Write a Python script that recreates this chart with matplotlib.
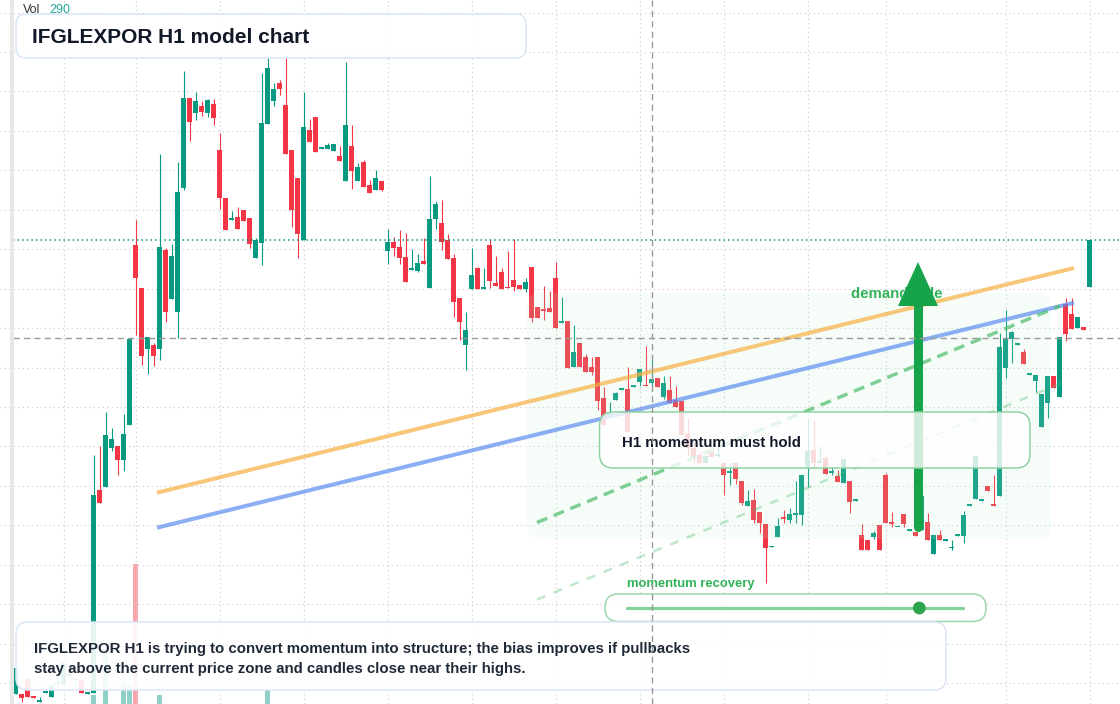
import matplotlib
matplotlib.use("Agg")
import matplotlib.pyplot as plt
import matplotlib.transforms as mtransforms
from matplotlib.patches import FancyBboxPatch, Polygon, Circle, Rectangle
import numpy as np

# H1 candles, oldest first
opens = [
    30.6, 30.6, 32.1, 30.3, 29.85, 30.75, 30.3, 31.65, 31.5, 32.45,
    32.0, 32.0, 30.65, 30.7, 51.0, 51.3, 55.2, 55.4, 54.0, 57.5,
    75.5, 71.2, 65.1, 65.5, 65.1, 75.0, 70.1, 68.8, 81.2, 90.2,
    88.7, 89.4, 88.7, 89.6, 85.0, 80.2, 78.05, 78.3, 79.0, 78.2,
    74.2, 75.7, 87.6, 89.9, 91.7, 89.5, 85.0, 82.2, 76.0, 87.0,
    88.3, 85.15, 85.1, 84.9, 84.4, 81.9, 85.4, 81.9, 83.8, 81.5,
    81.0, 81.9, 74.9, 75.8, 75.3, 74.3, 73.05, 72.9, 73.9, 71.2,
    78.1, 77.7, 76.0, 74.2, 70.2, 65.5, 71.1, 73.2, 71.15, 75.5,
    71.7, 72.8, 71.3, 72.0, 71.5, 71.1, 73.3, 69.3, 69.05, 69.2,
    72.2, 67.75, 67.9, 63.3, 65.7, 64.3, 63.3, 64.3, 60.2, 58.3,
    60.0, 61.05, 61.1, 61.35, 61.8, 61.5, 61.7, 62.2, 60.3, 61.0,
    60.0, 59.9, 56.6, 55.2, 54.5, 53.7, 54.8, 54.45, 53.7, 52.75,
    53.7, 51.9, 49.4, 50.0, 48.8, 47.6, 45.3, 46.3, 48.3, 48.0,
    48.55, 48.5, 53.3, 55.0, 53.7, 54.2, 52.75, 52.4, 51.7, 51.9,
    49.95, 46.5, 46.0, 46.3, 47.5, 52.5, 47.7, 47.3, 48.6, 46.95,
    46.8, 47.0, 47.8, 44.6, 46.5, 45.95, 45.2, 46.45, 46.4, 49.45,
    50.1, 49.95, 51.4, 49.6, 50.4, 63.2, 66.1, 65.55, 64.8, 62.55,
    61.9, 57.3, 59.7, 62.4, 60.3, 69.6, 68.6, 67.2, 67.3, 71.3,
]
highs = [
    33.2, 30.6, 32.1, 30.4, 30.3, 30.8, 31.5, 32.0, 33.7, 32.8,
    32.2, 32.0, 30.7, 54.5, 55.4, 58.8, 57.2, 55.4, 58.6, 66.1,
    78.0, 71.2, 66.3, 65.7, 84.6, 75.2, 75.6, 83.8, 92.9, 90.2,
    90.8, 89.9, 90.1, 90.1, 86.7, 80.2, 78.9, 79.3, 79.0, 78.2,
    76.2, 92.7, 94.2, 91.7, 92.0, 94.2, 85.0, 82.2, 90.8, 88.1,
    88.3, 85.2, 85.7, 85.6, 85.4, 93.8, 87.5, 83.7, 84.0, 82.0,
    83.0, 81.9, 77.1, 76.3, 77.0, 76.7, 75.1, 74.6, 76.2, 82.4,
    79.9, 80.0, 76.6, 74.6, 70.2, 68.8, 75.2, 73.3, 73.2, 76.1,
    74.4, 73.2, 74.9, 76.1, 71.5, 72.2, 73.3, 69.3, 71.4, 70.9,
    73.8, 70.3, 67.9, 67.5, 65.7, 64.6, 64.3, 64.3, 61.3, 59.8,
    60.8, 61.2, 63.3, 61.4, 63.1, 65.4, 64.0, 62.2, 62.4, 62.4,
    61.4, 59.9, 58.2, 55.8, 54.8, 54.4, 54.8, 55.3, 53.7, 53.8,
    53.7, 51.9, 51.0, 51.1, 48.8, 47.6, 45.4, 48.2, 49.0, 49.2,
    51.9, 52.5, 58.2, 57.9, 55.3, 54.5, 53.3, 53.0, 54.1, 51.9,
    50.0, 47.6, 46.0, 46.9, 47.5, 52.7, 48.8, 47.35, 48.6, 47.0,
    46.8, 50.4, 48.7, 46.5, 47.0, 46.0, 46.0, 46.5, 48.9, 49.5,
    54.4, 50.0, 51.4, 52.5, 66.7, 69.0, 66.9, 65.6, 65.1, 62.6,
    62.5, 60.6, 62.4, 62.4, 66.3, 70.2, 70.2, 68.3, 67.3, 76.0,
]
lows = [
    30.6, 29.8, 30.3, 30.2, 29.8, 30.75, 30.3, 31.4, 31.5, 32.4,
    31.9, 30.7, 30.65, 30.7, 49.7, 51.3, 54.9, 52.5, 52.9, 57.5,
    66.5, 63.5, 62.6, 63.4, 64.0, 67.8, 70.1, 66.2, 81.0, 85.9,
    88.0, 88.4, 88.3, 87.5, 79.1, 77.0, 78.0, 77.1, 77.9, 75.2,
    74.2, 73.5, 87.6, 89.4, 90.5, 84.6, 77.3, 74.2, 76.0, 85.8,
    84.8, 85.1, 85.1, 84.9, 83.9, 81.9, 81.1, 81.9, 81.3, 80.7,
    81.0, 80.9, 73.6, 74.4, 73.6, 71.8, 73.0, 72.8, 73.6, 71.2,
    77.1, 75.0, 74.1, 68.3, 66.0, 63.0, 71.1, 71.1, 71.1, 71.2,
    71.4, 71.1, 71.2, 70.9, 71.1, 70.8, 67.8, 68.2, 68.0, 68.8,
    67.2, 67.7, 63.2, 63.3, 63.3, 62.8, 62.5, 59.0, 57.5, 58.3,
    60.0, 61.0, 56.8, 61.3, 61.4, 61.4, 61.4, 61.3, 60.1, 59.7,
    59.3, 56.5, 54.5, 53.7, 53.7, 53.7, 54.3, 54.3, 50.5, 51.5,
    51.6, 49.5, 49.4, 47.7, 46.7, 41.7, 45.3, 46.3, 47.7, 47.7,
    47.7, 47.5, 51.3, 53.2, 53.7, 52.6, 52.5, 51.8, 51.7, 48.7,
    49.9, 45.0, 45.0, 46.1, 45.0, 47.7, 47.3, 47.3, 47.3, 46.9,
    46.4, 47.0, 46.0, 44.6, 46.0, 45.9, 45.0, 46.45, 45.7, 49.45,
    50.1, 49.95, 50.9, 49.4, 50.4, 62.2, 63.7, 65.55, 63.6, 62.55,
    60.8, 57.3, 58.2, 61.2, 60.3, 65.9, 67.1, 67.2, 67.0, 71.3,
]
closes = [
    33.2, 30.2, 30.3, 30.25, 29.9, 30.8, 31.5, 31.7, 33.7, 32.5,
    32.05, 30.7, 30.7, 50.5, 49.7, 56.5, 56.1, 54.0, 56.6, 66.1,
    72.2, 64.4, 66.3, 64.4, 75.3, 68.8, 74.4, 80.8, 90.2, 87.8,
    89.9, 88.8, 90.0, 88.2, 80.2, 77.0, 78.1, 77.1, 77.9, 75.6,
    76.0, 87.7, 93.2, 91.1, 91.1, 84.6, 79.0, 76.6, 87.3, 85.8,
    84.8, 85.2, 85.5, 85.6, 83.9, 87.5, 82.9, 83.3, 81.3, 80.7,
    82.2, 81.0, 75.8, 75.2, 74.2, 71.8, 73.1, 73.7, 73.6, 78.1,
    79.6, 75.8, 74.1, 69.8, 67.8, 67.0, 72.5, 71.1, 71.2, 71.9,
    71.4, 71.1, 71.2, 71.3, 71.1, 71.8, 68.2, 68.2, 68.95, 68.8,
    67.2, 67.9, 63.2, 64.8, 63.3, 62.8, 62.8, 59.9, 57.5, 58.7,
    60.7, 61.1, 56.8, 61.4, 63.1, 61.4, 62.1, 61.3, 61.7, 59.7,
    59.3, 56.5, 55.2, 54.3, 53.7, 54.4, 54.3, 54.5, 52.5, 52.8,
    52.1, 49.7, 49.9, 48.0, 47.7, 45.2, 45.35, 47.4, 48.1, 48.6,
    48.6, 52.5, 54.9, 53.7, 53.9, 52.6, 52.8, 51.8, 54.1, 49.8,
    50.0, 45.0, 45.0, 46.7, 45.0, 47.7, 47.65, 47.35, 47.6, 47.0,
    46.4, 50.4, 46.0, 46.5, 46.0, 46.0, 45.25, 46.5, 48.5, 49.5,
    54.4, 50.0, 50.9, 49.4, 65.3, 66.2, 66.8, 65.6, 63.6, 62.6,
    62.5, 60.6, 62.4, 61.2, 66.3, 66.6, 67.1, 68.3, 67.0, 76.0,
]
volumes = [
    180, 150, 210, 90, 120, 140, 200, 160, 230, 130,
    110, 190, 150, 450, 300, 880, 260, 240, 580, 540,
    1760, 320, 210, 180, 450, 310, 250, 340, 330, 260,
    190, 150, 170, 200, 290, 230, 140, 160, 120, 210,
    180, 340, 500, 220, 150, 300, 270, 280, 330, 170,
    190, 80, 90, 110, 150, 320, 250, 160, 180, 130,
    140, 120, 240, 150, 170, 200, 130, 120, 140, 290,
    180, 210, 170, 260, 230, 250, 220, 160, 110, 200,
    130, 150, 120, 170, 100, 130, 240, 160, 120, 140,
    230, 150, 260, 190, 180, 150, 110, 230, 200, 140,
    150, 100, 240, 90, 170, 160, 150, 130, 180, 160,
    130, 220, 190, 150, 120, 130, 110, 100, 170, 120,
    160, 200, 140, 190, 160, 260, 90, 170, 130, 140,
    180, 250, 230, 200, 120, 170, 100, 130, 190, 200,
    90, 210, 160, 110, 220, 280, 150, 80, 160, 90,
    120, 220, 200, 210, 130, 90, 110, 90, 190, 80,
    250, 90, 120, 160, 330, 260, 170, 90, 160, 90,
    150, 220, 200, 140, 300, 280, 210, 160, 120, 290,
]

# drawn levels: (bar index, price) end points
trend_upper = [(23.55, 50.73), (176.38, 73.2)]
trend_lower = [(23.55, 47.23), (176.38, 69.73)]
momentum_fast = [(86.88, 47.75), (174.05, 69.4)]
momentum_slow = [(86.88, 40.05), (174.38, 61.7)]
crosshair = (106, 66.2)
momentum_recovery = 0.87

title = "IFGLEXPOR H1 model chart"
note_lines = [
    "IFGLEXPOR H1 is trying to convert momentum into structure; the bias improves if pullbacks",
    "stay above the current price zone and candles close near their highs.",
]
hold_label = "H1 momentum must hold"
zone_label = "demand side"
slider_label = "momentum recovery"

TEAL = "#089981"
RED = "#f23645"
FONT = ["Liberation Sans", "DejaVu Sans"]

fig = plt.figure(figsize=(11.2, 7.04), dpi=100)
fig.patch.set_facecolor("white")
ax_vol = fig.add_axes([0, 0, 1, 1], zorder=0)
ax = fig.add_axes([0, 0, 1, 1], zorder=1)
for a in (ax_vol, ax):
    a.set_axis_off()

# pixel space (origin top-left) for the annotation layer
px = mtransforms.Affine2D().scale(1 / 100, -1 / 100).translate(0, 7.04) + fig.dpi_scale_trans

o = np.array(opens)
h = np.array(highs)
l = np.array(lows)
c = np.array(closes)
idx = np.arange(len(o))
up = c >= o
colors = np.where(up, TEAL, RED)

# grid
for gx in [8, 20, 34, 48, 62, 76, 90, 104, 118, 132, 145, 165, 179]:
    ax.axvline(gx, color="#d0d0d0", lw=0.8, ls=(0, (1.2, 2.8)), zorder=0.5)
for gy in np.arange(98.75, 29, -3.945):
    ax.axhline(gy, color="#d0d0d0", lw=0.8, ls=(0, (1.2, 2.8)), zorder=0.5)

# volume
ax_vol.bar(idx, volumes, width=0.75, color=colors, alpha=0.45, linewidth=0)

# candles
ax.vlines(idx, l, h, colors=colors, lw=0.8, zorder=2)
ax.bar(idx, np.maximum(np.abs(c - o), 0.12), bottom=np.minimum(o, c), width=0.76,
       color=colors, linewidth=0, zorder=2.1)

# last price + crosshair
ax.axhline(c[-1], xmin=13 / 1120, color=TEAL, lw=1.1, ls=(0, (1, 2)), zorder=4)
ax.axvline(crosshair[0], color="#9a9a9a", lw=1.0, ls=(0, (4.5, 3)), zorder=8)
ax.axhline(crosshair[1], xmin=13 / 1120, color="#9a9a9a", lw=1.0, ls=(0, (4.5, 3)), zorder=8)

# demand zone
ax.add_patch(FancyBboxPatch((527, 293), 524, 246, boxstyle="round,pad=0,rounding_size=14",
                            fc="#bbf7d0", ec="none", alpha=0.13, transform=px, zorder=3))

# trend lines
for pts, col, a in [(trend_upper, "#f6b042", 0.7), (trend_lower, "#5b8def", 0.7)]:
    ax.plot([p[0] for p in pts], [p[1] for p in pts], color=col, alpha=a, lw=2.9,
            solid_capstyle="butt", zorder=4)
ax.plot([p[0] for p in momentum_fast], [p[1] for p in momentum_fast], color="#4cbb6c",
        alpha=0.7, lw=2.5, ls=(0, (3.2, 2.0)), zorder=4)
ax.plot([p[0] for p in momentum_slow], [p[1] for p in momentum_slow], color="#4cbb6c",
        alpha=0.35, lw=1.8, ls=(0, (3.6, 3.6)), zorder=4)

# zone label + arrow
ax.text(851, 298.3, zone_label, transform=px, fontsize=10.8, fontweight="bold",
        color="#34b35a", family=FONT, va="baseline", zorder=4.5)
ax.plot([918, 918], [527, 305], transform=px, color="#16a34a", lw=6.5,
        solid_capstyle="round", zorder=5)
ax.add_patch(Polygon([(898, 306), (938, 306), (918, 262)], closed=True, transform=px,
                     fc="#16a34a", ec="none", zorder=5))

# hold box
ax.add_patch(FancyBboxPatch((599.5, 412), 430.5, 56, boxstyle="round,pad=0,rounding_size=14",
                            fc=(1, 1, 1, 0.8), ec="#8fd3a2", lw=1.1, transform=px, zorder=6))
ax.text(622.5, 446.7, hold_label, transform=px, fontsize=10.8, fontweight="bold",
        color="#111827", family=FONT, va="baseline", zorder=7)

# momentum slider
ax.text(627, 586.7, slider_label, transform=px, fontsize=9.4, fontweight="bold",
        color="#2fb457", family=FONT, va="baseline", zorder=7)
ax.add_patch(FancyBboxPatch((605, 594), 381, 27.5, boxstyle="round,pad=0,rounding_size=13.5",
                            fc=(1, 1, 1, 0.85), ec="#9ad8aa", lw=1.1, transform=px, zorder=6))
ax.plot([627, 963], [608, 608], transform=px, color="#84d19a", lw=2.3,
        solid_capstyle="round", zorder=6.5)
ax.add_patch(Circle((627 + momentum_recovery * 336, 608), 6.4, transform=px,
                    fc="#2ea44f", ec="none", zorder=7))

# title + note boxes
ax.add_patch(FancyBboxPatch((16, 14), 510, 44, boxstyle="round,pad=0,rounding_size=10",
                            fc=(1, 1, 1, 0.9), ec="#dbe6f9", lw=1.1, transform=px, zorder=6))
ax.text(32, 43.3, title, transform=px, fontsize=15, fontweight="bold",
        color="#111827", family=FONT, va="baseline", zorder=7)
ax.add_patch(FancyBboxPatch((16, 622), 930, 68, boxstyle="round,pad=0,rounding_size=12",
                            fc=(1, 1, 1, 0.9), ec="#dbe6f9", lw=1.1, transform=px, zorder=6))
for k, line in enumerate(note_lines):
    ax.text(34, 653.3 + 20 * k, line, transform=px, fontsize=10.8, fontweight="bold",
            color="#1f2937", family=FONT, va="baseline", zorder=7)

# volume legend
ax.text(23, 12.7, "Vol", transform=px, fontsize=9, color="#333333", family=FONT,
        va="baseline", zorder=9)
ax.text(49, 12.7, f"{volumes[-1]}", transform=px, fontsize=9, color="#26a69a", family=FONT,
        va="baseline", zorder=9)

# left scale edge
ax.add_patch(Rectangle((10, 0), 3.5, 704, transform=px, fc="#e8e8e8", ec="none", zorder=9))

for a in (ax_vol, ax):
    a.set_xlim(-2.617, 184.05)
ax.set_ylim(29.6, 100)
ax_vol.set_ylim(360, 7400)

fig.savefig("out.png", dpi=100, facecolor="white")
